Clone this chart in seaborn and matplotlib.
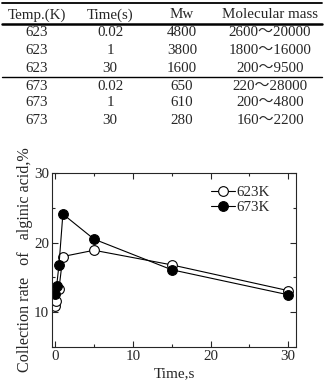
import matplotlib
matplotlib.use("Agg")
import matplotlib.pyplot as plt
from matplotlib.lines import Line2D
from matplotlib.ticker import MultipleLocator
import seaborn as sns
import pandas as pd

# table data
table_header = ["Temp.(K)", "Time(s)", "Mw", "Molecular mass"]
table_temp = ["623", "623", "623", "673", "673", "673"]
table_time = ["0.02", "1", "30", "0.02", "1", "30"]
table_mw = ["4800", "3800", "1600", "650", "610", "280"]
table_mass = ["2600～20000", "1800～16000", "200～9500",
              "220～28000", "200～4800", "160～2200"]

# chart data
time_623 = [0.02, 0.1, 0.5, 1, 5, 15, 30]
rate_623 = [10.9, 11.6, 13.4, 18.0, 18.9, 16.8, 13.1]
time_673 = [0.02, 0.2, 0.5, 1, 5, 15, 30]
rate_673 = [12.6, 13.8, 16.8, 24.1, 20.5, 16.1, 12.5]

sns.set_style("ticks")
plt.rcParams["font.family"] = ["Liberation Serif", "Noto Sans CJK JP", "DejaVu Sans"]
plt.rcParams["font.size"] = 10.5

W, H = 327, 381
fig = plt.figure(figsize=(W / 100, H / 100), dpi=100)

# ---- table at the top ----
col_x = [37, 110, 182, 270]
row_y = [15, 32, 50, 68, 86, 103, 120]


def fx(px):
    return px / W


def fy(py):
    return 1 - py / H


for x, t in zip(col_x, table_header):
    fig.text(fx(x), fy(row_y[0]), t, ha="center", va="center", fontsize=10.8)

for i in range(6):
    row = [table_temp[i], table_time[i], table_mw[i], table_mass[i]]
    for x, t in zip(col_x, row):
        fig.text(fx(x), fy(row_y[i + 1]), t, ha="center", va="center", fontsize=10.8)

for y, lw in [(3, 1.3), (24, 1.8), (77, 1.0)]:
    fig.add_artist(Line2D([fx(2), fx(322)], [fy(y), fy(y)], color="black", lw=lw))

# ---- chart ----
ax = fig.add_axes([52 / W, 1 - 347 / H, (296 - 52) / W, (347 - 173) / H])

df623 = pd.DataFrame({"time": time_623, "rate": rate_623})
df673 = pd.DataFrame({"time": time_673, "rate": rate_673})

sns.lineplot(data=df623, x="time", y="rate", ax=ax, color="black", lw=0.8,
             marker="o", markersize=7, markerfacecolor="white",
             markeredgecolor="black", markeredgewidth=0.8, sort=False, label="623K")
sns.lineplot(data=df673, x="time", y="rate", ax=ax, color="black", lw=0.8,
             marker="o", markersize=7, markerfacecolor="black",
             markeredgecolor="black", markeredgewidth=0.8, sort=False, label="673K")

ax.set_xlim(-0.4, 31)
ax.set_ylim(5, 30)
ax.xaxis.set_major_locator(MultipleLocator(10))
ax.xaxis.set_minor_locator(MultipleLocator(5))
ax.yaxis.set_major_locator(MultipleLocator(10))
ax.yaxis.set_minor_locator(MultipleLocator(5))
ax.tick_params(which="both", direction="in", top=True, right=True, width=0.8,
               labelsize=10.8, pad=2)
ax.tick_params(which="major", length=4)
ax.tick_params(which="minor", length=2.5)
for s in ax.spines.values():
    s.set_linewidth(0.8)

ax.set_xlabel("Time,s", fontsize=11, labelpad=3)
ax.set_ylabel("Collection rate   of   alginic acid,%", fontsize=11.6, labelpad=1)

ax.legend(loc="upper right", bbox_to_anchor=(0.93, 0.98), frameon=False,
          handlelength=1.6, handletextpad=0.1, labelspacing=0.1, fontsize=10.8,
          borderaxespad=0.2)

fig.savefig("out.png", dpi=100)
